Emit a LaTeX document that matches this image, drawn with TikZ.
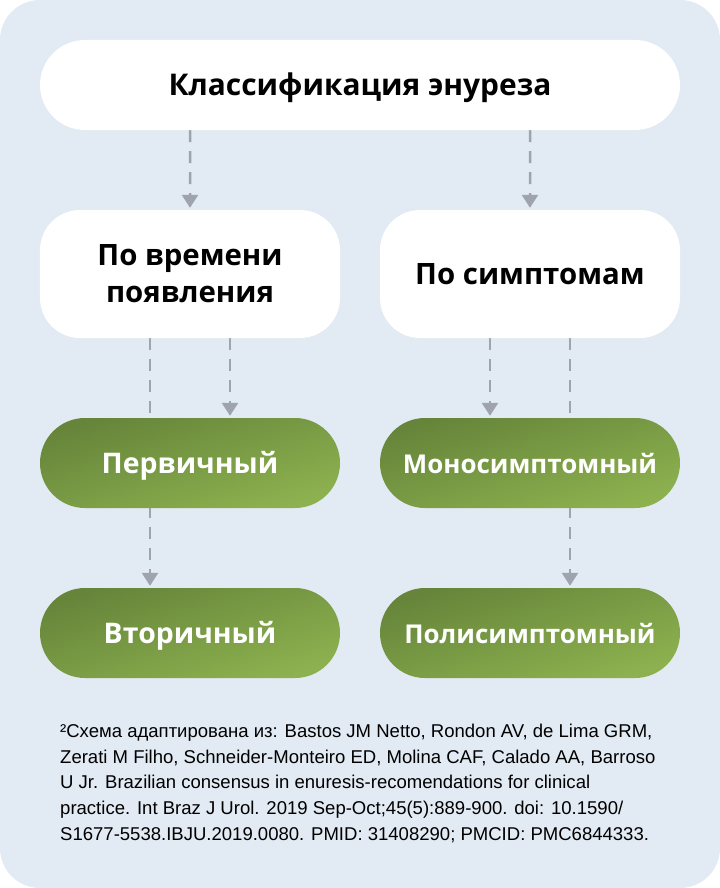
\documentclass[tikz,border=0pt]{standalone}
\usepackage{fontspec}
\setmainfont{Open Sans}
\newfontfamily\notefont{Liberation Sans}
\usetikzlibrary{arrows.meta,backgrounds}
\definecolor{bgblue}{HTML}{E2EAF3}
\definecolor{linkgrey}{HTML}{9EA3AD}
\definecolor{darkgreen}{HTML}{66853A}
\definecolor{lightgreen}{HTML}{8DB14F}

\begin{document}
\begin{tikzpicture}[x=1bp,y=-1bp,
  box/.style={fill=white, rounded corners=40bp, minimum width=300bp,
    minimum height=128bp, align=center, inner sep=0pt,
    font=\fontsize{29.5}{37}\selectfont\bfseries},
  oneline/.style={text height=20.5bp, text depth=0pt},
  pill/.style={top color=darkgreen, bottom color=lightgreen, shading angle=17,
    rounded corners=45bp, minimum width=300bp, minimum height=90bp, oneline,
    inner sep=0pt, text=white, font=\fontsize{28.5}{32}\selectfont\bfseries},
  link/.style={draw=linkgrey, line width=2.5bp, dash pattern=on 12bp off 9bp,
    shorten >=2bp, -{Triangle[width=16bp,length=13bp]}}]
\useasboundingbox (0,0) rectangle (720,888);
% nodes
\node[box, minimum width=640bp, minimum height=90bp, rounded corners=45bp, oneline,
  font=\fontsize{30}{36}\selectfont\bfseries] (root) at (360,85) {Классификация энуреза};
\node[box] (time) at (190,274) {По времени\\появления};
\node[box, oneline] (symp) at (530,274) {По симптомам};
\node[pill] (prim) at (190,463) {Первичный};
\node[pill] (sec) at (190,633) {Вторичный};
\node[pill, font=\fontsize{26}{30}\selectfont\bfseries] (mono) at (530,463) {Моносимптомный};
\node[pill, font=\fontsize{26}{30}\selectfont\bfseries] (poly) at (530,633) {Полисимптомный};
% note
\node[anchor=north west, align=left, inner sep=0pt, text=black,
  font=\notefont\fontsize{18.6}{25.7}\selectfont] (note) at (60,724)
  {²Схема адаптирована из: Bastos JM Netto, Rondon AV, de Lima GRM,\\
   Zerati M Filho, Schneider-Monteiro ED, Molina CAF, Calado AA, Barroso\\
   U Jr. Brazilian consensus in enuresis-recomendations for clinical\\
   practice. Int Braz J Urol. 2019 Sep-Oct;45(5):889-900. doi: 10.1590/\\
   S1677-5538.IBJU.2019.0080. PMID: 31408290; PMCID: PMC6844333.};
% connectors
\begin{pgfonlayer}{background}
\fill[bgblue] (0,0) [rounded corners=40bp] rectangle (720,888);
\draw[link] ([xshift=-170bp]root.south) -- (time.north);
\draw[link] ([xshift=170bp]root.south) -- (symp.north);
\draw[link] ([xshift=-40bp]time.south) -- ([xshift=-40bp]sec.north);
\draw[link] ([xshift=40bp]time.south) -- ([xshift=40bp]prim.north);
\draw[link] ([xshift=-40bp]symp.south) -- ([xshift=-40bp]mono.north);
\draw[link] ([xshift=40bp]symp.south) -- ([xshift=40bp]poly.north);
\end{pgfonlayer}
\end{tikzpicture}
\end{document}
